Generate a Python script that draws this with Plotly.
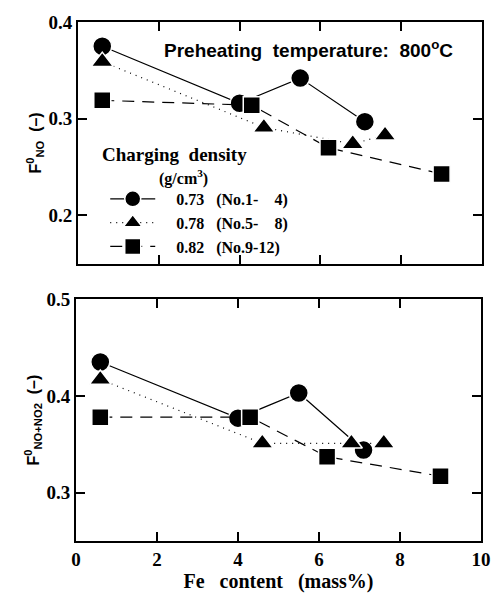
import plotly.graph_objects as go

# ---- data ----
x_c = [0.6, 4.0, 5.5, 7.1]      # 0.73 g/cm3 (No.1-4)
x_t = [0.6, 4.6, 6.8, 7.6]      # 0.78 g/cm3 (No.5-8)
x_s = [0.6, 4.3, 6.2, 9.0]      # 0.82 g/cm3 (No.9-12)

f_no_c = [0.375, 0.316, 0.342, 0.297]
f_no_t = [0.359, 0.291, 0.274, 0.283]
f_no_s = [0.319, 0.314, 0.270, 0.243]

f_nox_c = [0.435, 0.377, 0.403, 0.344]
f_nox_t = [0.417, 0.351, 0.351, 0.351]
f_nox_s = [0.378, 0.378, 0.337, 0.317]

names = ["\u20030.73\u2002 (No.1-\u2007\u20074)",
         "\u20030.78\u2002 (No.5-\u2007\u20078)",
         "\u20030.82\u2002 (No.9-12)"]
x_ticks = [0, 2, 4, 6, 8, 10]
y_ticks_top = [0.2, 0.3, 0.4]
y_ticks_bot = [0.3, 0.4, 0.5]

SERIF = "Liberation Serif"
SANS = "Liberation Sans"

styles = [
    dict(symbol="circle", size=19, dash="solid"),
    dict(symbol="triangle-up", size=19, dash="1px,5px"),
    dict(symbol="square", size=17, dash="12px,8px"),
]

fig = go.Figure()
series_top = [(x_c, f_no_c), (x_t, f_no_t), (x_s, f_no_s)]
series_bot = [(x_c, f_nox_c), (x_t, f_nox_t), (x_s, f_nox_s)]
for i, ((xx, yy), st) in enumerate(zip(series_top, styles)):
    fig.add_trace(go.Scatter(
        x=xx, y=yy, mode="lines+markers", name=names[i],
        line=dict(color="black", width=1.2, dash=st["dash"]),
        marker=dict(symbol=st["symbol"], size=st["size"], color="black",
                    line=dict(color="white", width=1.5)),
        xaxis="x", yaxis="y", showlegend=True))
for i, ((xx, yy), st) in enumerate(zip(series_bot, styles)):
    fig.add_trace(go.Scatter(
        x=xx, y=yy, mode="lines+markers", name=names[i],
        line=dict(color="black", width=1.2, dash=st["dash"]),
        marker=dict(symbol=st["symbol"], size=st["size"], color="black",
                    line=dict(color="white", width=1.5)),
        xaxis="x2", yaxis="y2", showlegend=False))

tickfont = dict(family=SERIF, size=19, color="black", weight="bold")
axis_common = dict(showline=True, linewidth=2, linecolor="black", mirror="ticks",
                   ticks="inside", ticklen=9, tickwidth=1.5, tickcolor="black",
                   showgrid=False, zeroline=False, tickfont=tickfont)

fig.update_layout(
    width=504, height=598,
    margin=dict(l=76, r=19, t=16, b=50),
    paper_bgcolor="white", plot_bgcolor="white",
    xaxis=dict(domain=[0.005, 1.0], range=[0, 10], tickvals=x_ticks,
               showticklabels=False, anchor="y", **axis_common),
    yaxis=dict(domain=[0.534, 1.0], range=[0.15, 0.4], tickvals=y_ticks_top,
               ticktext=[f"{v:.1f}" for v in y_ticks_top], anchor="x",
               title=dict(text="<b>F<sup>0</sup><sub>NO</sub>  (\u2013)</b>",
                          font=dict(family=SANS, size=16, color="black"), standoff=3),
               **axis_common),
    xaxis2=dict(domain=[0.0, 0.9975], range=[0, 10], tickvals=x_ticks,
                ticktext=[str(v) for v in x_ticks], anchor="y2",
                title=dict(text="<b>Fe\u00a0\u00a0 content\u00a0\u00a0 (mass%)</b>",
                           font=dict(family=SERIF, size=20, color="black"), standoff=2),
                **axis_common),
    yaxis2=dict(domain=[0.0, 0.466], range=[0.25, 0.5], tickvals=y_ticks_bot,
                ticktext=[f"{v:.1f}" for v in y_ticks_bot], anchor="x2",
                title=dict(text="<b>F<sup>0</sup><sub>NO+NO2</sub>  (\u2013)</b>",
                           font=dict(family=SANS, size=16, color="black"), standoff=3),
                **axis_common),
    legend=dict(x=0.072, y=(548 - 222) / 532, xanchor="left", yanchor="middle",
                bgcolor="rgba(0,0,0,0)", itemwidth=45,
                font=dict(family=SERIF, size=16, color="black", weight="bold"),
                tracegroupgap=0),
    annotations=[
        dict(text="<b>Preheating  temperature:  800<sup>o</sup>C</b>", xref="paper", yref="paper",
             x=(310 - 76) / 409, y=(548 - 44) / 532, xanchor="center", yanchor="middle",
             showarrow=False, font=dict(family=SANS, size=19, color="black")),
        dict(text="<b>Charging  density</b>", xref="paper", yref="paper",
             x=(100 - 76) / 409, y=(548 - 152) / 532, xanchor="left", yanchor="middle",
             showarrow=False, font=dict(family=SERIF, size=19, color="black")),
        dict(text="<b>(g/cm<sup>3</sup>)</b>", xref="paper", yref="paper",
             x=(158 - 76) / 409, y=(548 - 175) / 532, xanchor="left", yanchor="middle",
             showarrow=False, font=dict(family=SERIF, size=16, color="black")),
    ],
)
# remove the browser's default 8px body margin so the figure sits at the page origin
fig.write_html("out.html", config={"displayModeBar": False},
               post_script="document.body.style.margin='0';")
